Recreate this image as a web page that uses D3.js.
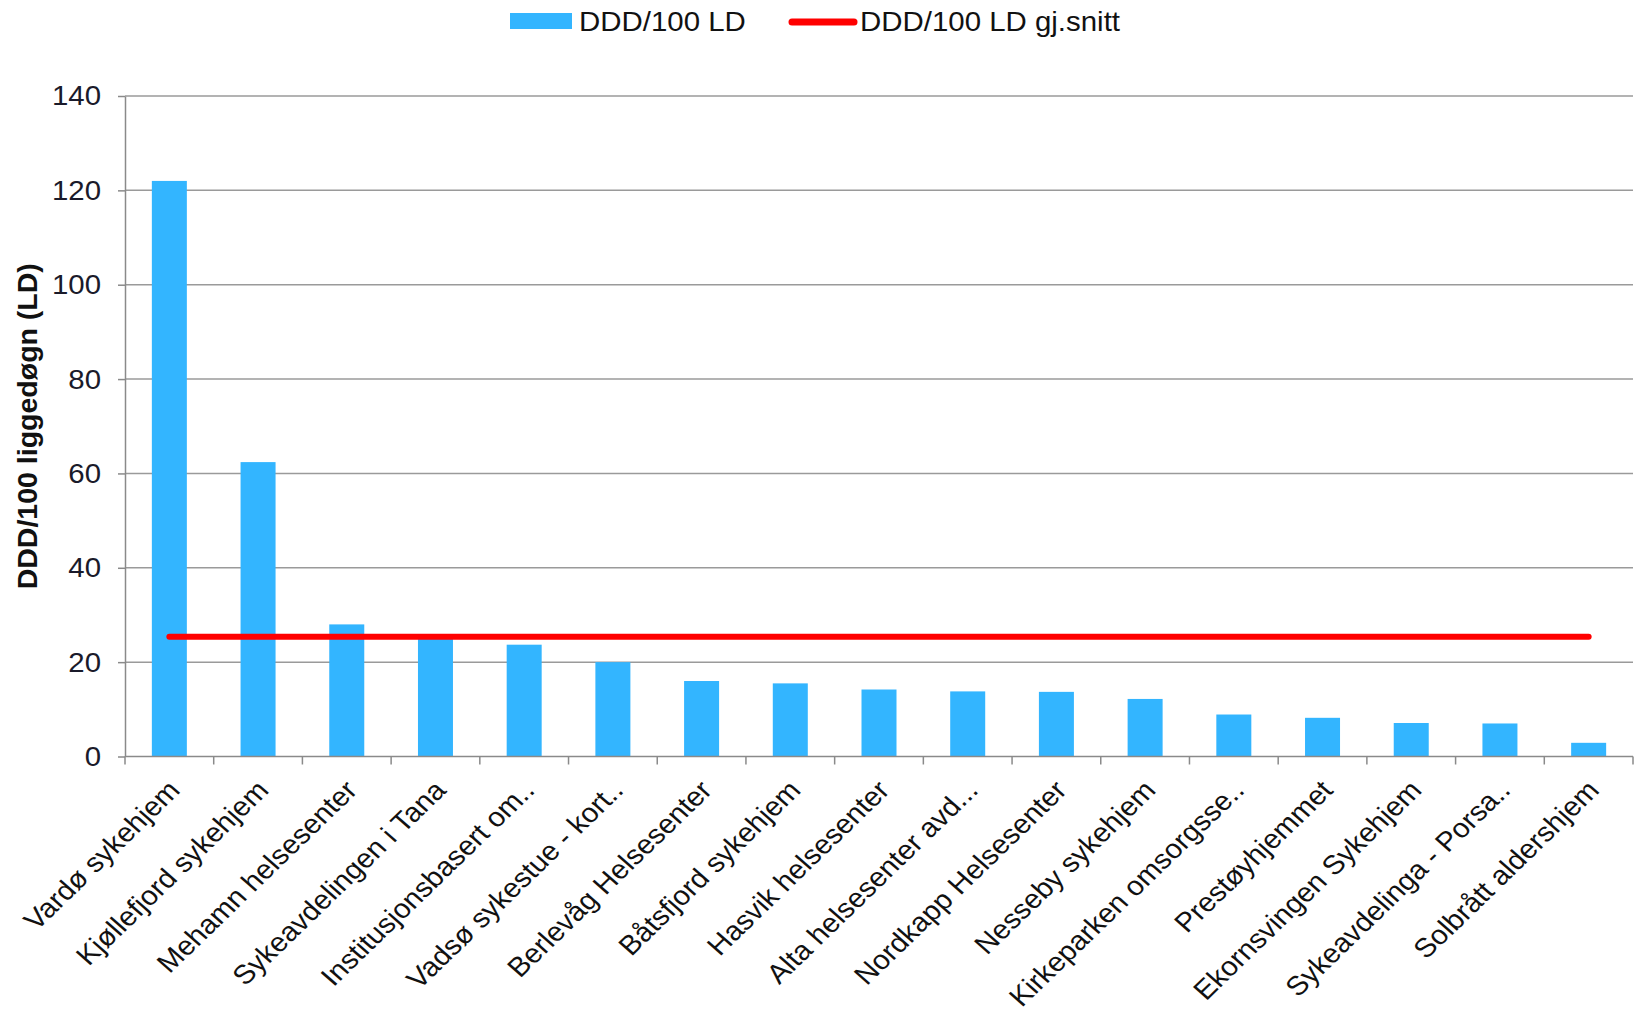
<!DOCTYPE html>
<html><head><meta charset="utf-8">
<script src="https://cdn.jsdelivr.net/npm/d3@7"></script>
<style>body{margin:0;background:#fff}svg{display:block}text{font-family:"Liberation Sans",Arial,sans-serif}</style>
</head><body><svg id="c" width="1636" height="1021"></svg>
<script>
const categories = ["Vardø sykehjem","Kjøllefjord sykehjem","Mehamn helsesenter","Sykeavdelingen i Tana","Institusjonsbasert om..","Vadsø sykestue - kort..","Berlevåg Helsesenter","Båtsfjord sykehjem","Hasvik helsesenter","Alta helsesenter avd...","Nordkapp Helsesenter","Nesseby sykehjem","Kirkeparken omsorgsse..","Prestøyhjemmet","Ekornsvingen Sykehjem","Sykeavdelinga - Porsa..","Solbrått aldershjem"];
const dddValues = [122, 62.4, 28, 25, 23.7, 20, 16, 15.5, 14.2, 13.8, 13.7, 12.2, 8.9, 8.2, 7.1, 7.0, 2.9];
const averageValue = 25.4;
const yTicks = [0,20,40,60,80,100,120,140];
const seriesNames = ["DDD/100 LD","DDD/100 LD gj.snitt"];
const yTitle = "DDD/100 liggedøgn (LD)";

const FS = 27, SX = 1.09;
const svg = d3.select("#c");
const L = 125, R = 1633, T = 96, B = 756.5;
const xb = d3.scaleBand().domain(categories).range([L, R]);
const y = d3.scaleLinear().domain([0,140]).range([B, T]);

// gridlines
svg.append("g").selectAll("line").data(yTicks.filter(d=>d>0)).join("line")
  .attr("x1", L).attr("x2", R).attr("y1", d=>y(d)).attr("y2", d=>y(d))
  .attr("stroke", "#9a9a9a").attr("stroke-width", 1.5);

// bars
svg.append("g").selectAll("rect").data(categories).join("rect")
  .attr("x", (d)=>xb(d) + xb.bandwidth()/2 - 17.5)
  .attr("width", 35)
  .attr("y", (d,i)=>y(dddValues[i]))
  .attr("height", (d,i)=>B - y(dddValues[i]))
  .attr("fill", "#33b5ff");

// y axis
const ya = svg.append("g").attr("transform", `translate(${L},0)`)
  .call(d3.axisLeft(y).tickValues(yTicks).tickSize(7).tickSizeOuter(0));
ya.select(".domain").attr("stroke", "#8a8a8a").attr("stroke-width", 1.5);
ya.selectAll(".tick line").attr("stroke", "#8a8a8a").attr("stroke-width", 1.5);
ya.selectAll(".tick text").remove();
svg.append("g").selectAll("text").data(yTicks).join("text")
  .attr("transform", d=>`translate(${L-24},${y(d)}) scale(${SX},1)`)
  .attr("text-anchor", "end").attr("dy", "0.35em")
  .attr("font-size", FS).attr("fill", "#1a1a2a").text(d=>d);

// x axis
svg.append("line").attr("x1", L).attr("x2", R).attr("y1", B).attr("y2", B)
  .attr("stroke", "#8a8a8a").attr("stroke-width", 1.5);
const bounds = categories.map(c=>xb(c)).concat([R]);
svg.append("g").selectAll("line").data(bounds).join("line")
  .attr("x1", d=>d).attr("x2", d=>d).attr("y1", B).attr("y2", B+8)
  .attr("stroke", "#8a8a8a").attr("stroke-width", 1.5);

// x labels
svg.append("g").selectAll("text").data(categories).join("text")
  .attr("transform", d=>`translate(${xb(d)+xb.bandwidth()/2-3},${B+22}) scale(${SX},1) rotate(-46.5)`)
  .attr("text-anchor", "end").attr("dy", "0.7em")
  .attr("font-size", FS).attr("fill", "#111").text(d=>d);

// average line
const line = d3.line().x(d=>xb(d)+xb.bandwidth()/2).y(()=>y(averageValue));
svg.append("path").datum([categories[0], categories[categories.length-1]])
  .attr("d", line).attr("stroke", "#ff0000").attr("stroke-width", 6)
  .attr("stroke-linecap", "round").attr("fill", "none");

// y title
svg.append("text").attr("transform", `translate(37,${(T+B)/2}) rotate(-90)`)
  .attr("text-anchor", "middle").attr("font-size", 28.5).attr("font-weight", "bold")
  .attr("fill", "#111").text(yTitle);

// legend
const lg = svg.append("g");
lg.append("rect").attr("x", 510).attr("y", 13).attr("width", 62).attr("height", 16).attr("fill", "#33b5ff");
lg.append("text").attr("transform", `translate(579,31) scale(${SX},1)`).attr("font-size", FS).attr("fill", "#111").text(seriesNames[0]);
lg.append("line").attr("x1", 792).attr("x2", 854).attr("y1", 22).attr("y2", 22)
  .attr("stroke", "#ff0000").attr("stroke-width", 7).attr("stroke-linecap", "round");
lg.append("text").attr("transform", `translate(860,31) scale(${SX},1)`).attr("font-size", FS).attr("fill", "#111").text(seriesNames[1]);
</script></body></html>
